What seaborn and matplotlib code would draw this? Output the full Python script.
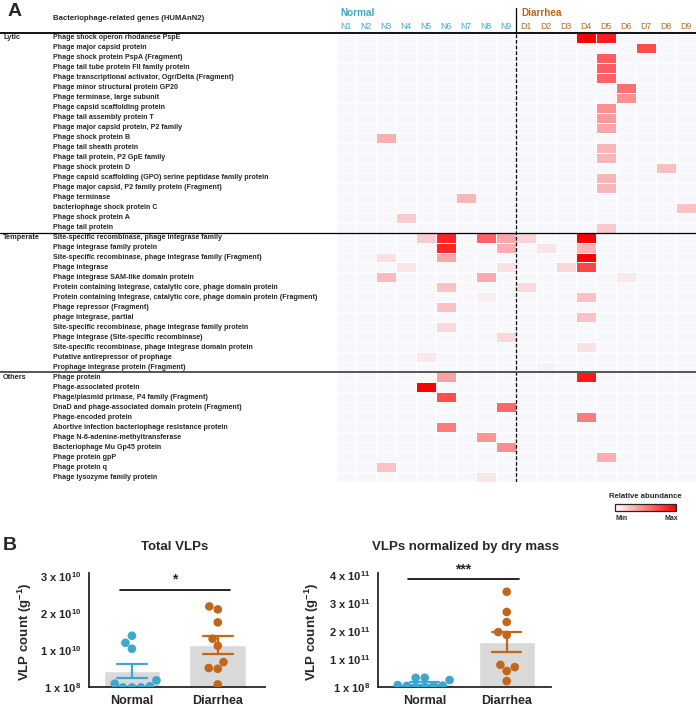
import matplotlib
matplotlib.use("Agg")
import matplotlib.pyplot as plt
import numpy as np
import pandas as pd
import seaborn as sns
from matplotlib.colors import LinearSegmentedColormap
from matplotlib.lines import Line2D
from matplotlib.transforms import blended_transform_factory
from matplotlib.cm import ScalarMappable

# ---------------- data ----------------
samples_normal = ["N1", "N2", "N3", "N4", "N5", "N6", "N7", "N8", "N9"]
samples_diarrhea = ["D1", "D2", "D3", "D4", "D5", "D6", "D7", "D8", "D9"]
samples = samples_normal + samples_diarrhea

genes_lytic = [
    "Phage shock operon rhodanese PspE",
    "Phage major capsid protein",
    "Phage shock protein PspA (Fragment)",
    "Phage tail tube protein FII family protein",
    "Phage transcriptional activator, Ogr/Delta (Fragment)",
    "Phage minor structural protein GP20",
    "Phage terminase, large subunit",
    "Phage capsid scaffolding protein",
    "Phage tail assembly protein T",
    "Phage major capsid protein, P2 family",
    "Phage shock protein B",
    "Phage tail sheath protein",
    "Phage tail protein, P2 GpE family",
    "Phage shock protein D",
    "Phage capsid scaffolding (GPO) serine peptidase family protein",
    "Phage major capsid, P2 family protein (Fragment)",
    "Phage terminase",
    "bacteriophage shock protein C",
    "Phage shock protein A",
    "Phage tail protein",
]
genes_temperate = [
    "Site-specific recombinase, phage integrase family",
    "Phage integrase family protein",
    "Site-specific recombinase, phage integrase family (Fragment)",
    "Phage integrase",
    "Phage integrase SAM-like domain protein",
    "Protein containing Integrase, catalytic core, phage domain protein",
    "Protein containing Integrase, catalytic core, phage domain protein (Fragment)",
    "Phage repressor (Fragment)",
    "phage integrase, partial",
    "Site-specific recombinase, phage integrase family protein",
    "Phage integrase (Site-specific recombinase)",
    "Site-specific recombinase, phage integrase domain protein",
    "Putative antirepressor of prophage",
    "Prophage integrase protein (Fragment)",
]
genes_others = [
    "Phage protein",
    "Phage-associated protein",
    "Phage/plasmid primase, P4 family (Fragment)",
    "DnaD and phage-associated domain protein (Fragment)",
    "Phage-encoded protein",
    "Abortive infection bacteriophage resistance protein",
    "Phage N-6-adenine-methyltransferase",
    "Bacteriophage Mu Gp45 protein",
    "Phage protein gpP",
    "Phage protein q",
    "Phage lysozyme family protein",
]

# relative abundance (0 = min, 1 = max), only non-zero cells: (gene, sample, value)
lytic_hits = [
    (0, "D4", 1.0), (0, "D5", 0.88), (1, "D7", 0.7), (2, "D5", 0.62),
    (3, "D5", 0.62), (4, "D5", 0.6), (5, "D6", 0.55), (6, "D6", 0.42),
    (7, "D5", 0.42), (8, "D5", 0.38), (9, "D5", 0.33), (10, "N3", 0.3),
    (11, "D5", 0.27), (12, "D5", 0.27), (13, "D8", 0.24), (14, "D5", 0.27),
    (15, "D5", 0.27), (16, "N7", 0.27), (17, "D9", 0.22), (18, "N4", 0.18),
    (19, "D5", 0.18),
]
temperate_hits = [
    (0, "N5", 0.18), (0, "N6", 0.85), (0, "N8", 0.6), (0, "N9", 0.33),
    (0, "D1", 0.15), (0, "D4", 1.0),
    (1, "N6", 0.85), (1, "N9", 0.3), (1, "D2", 0.08), (1, "D4", 0.27),
    (2, "N3", 0.1), (2, "N6", 0.33), (2, "D4", 1.0),
    (3, "N4", 0.08), (3, "N9", 0.1), (3, "D3", 0.13), (3, "D4", 0.72),
    (4, "N3", 0.25), (4, "N8", 0.32), (4, "D6", 0.06),
    (5, "N6", 0.22), (5, "D1", 0.12),
    (6, "N8", 0.04), (6, "D4", 0.22),
    (7, "N6", 0.22), (8, "D4", 0.22), (9, "N6", 0.13), (10, "N9", 0.13),
    (11, "D4", 0.1), (12, "N5", 0.07), (13, "D2", 0.03),
]
others_hits = [
    (0, "N6", 0.35), (0, "D4", 0.9), (1, "N5", 1.0), (2, "N6", 0.68),
    (3, "N9", 0.58), (4, "D4", 0.5), (5, "N6", 0.5), (6, "N8", 0.4),
    (7, "N9", 0.43), (8, "D5", 0.3), (9, "N3", 0.22), (10, "N8", 0.08),
]

# VLP counts per gram
total_normal = [1.39e10, 1.04e10, 1.2e10, 0.19e10, 0.1e10, 0.0, 0.0, 0.0, 0.03e10]
total_diarrhea = [2.1e10, 2.18e10, 1.75e10, 1.12e10, 1.31e10, 0.68e10, 0.5e10, 0.52e10, 0.08e10]
dry_normal = [0.0, 0.25e11, 0.05e11, 0.07e11, 0.33e11, 0.33e11, 0.04e11, 0.04e11, 0.0]
dry_diarrhea = [3.4e11, 2.68e11, 2.32e11, 1.86e11, 1.96e11, 0.79e11, 0.57e11, 0.71e11, 0.21e11]

# ---------------- style ----------------
sns.set_style("white")
plt.rcParams["font.family"] = ["Liberation Sans", "DejaVu Sans"]
plt.rcParams["mathtext.fontset"] = "custom"
plt.rcParams["mathtext.rm"] = "Liberation Sans:bold"
plt.rcParams["mathtext.bf"] = "Liberation Sans:bold"
plt.rcParams["mathtext.default"] = "bf"

BLUE = "#3FA7CC"
ORANGE = "#C2661C"
W, H = 696, 709


def box(x0, y0, x1, y1):
    return [x0 / W, 1 - y1 / H, (x1 - x0) / W, (y1 - y0) / H]


fig = plt.figure(figsize=(W / 100, H / 100), dpi=100)

# ---------------- panel A: heatmap ----------------
genes = genes_lytic + genes_temperate + genes_others
mat = pd.DataFrame(0.0, index=genes, columns=samples)
for names, hits in [(genes_lytic, lytic_hits), (genes_temperate, temperate_hits),
                    (genes_others, others_hits)]:
    for r, s, v in hits:
        mat.loc[names[r], s] = v

cmap = LinearSegmentedColormap.from_list("wr", ["#F8F8FC", "#FF0000"])
hm = fig.add_axes(box(336, 33, 696, 482))
sns.heatmap(mat, ax=hm, cmap=cmap, vmin=0, vmax=1, cbar=False,
            linewidths=0.6, linecolor="white", xticklabels=True, yticklabels=False)
hm.xaxis.tick_top()
hm.tick_params(axis="x", length=0, pad=1.5, labelsize=6.3)
for lab in hm.get_xticklabels():
    lab.set_rotation(0)
    lab.set_color(BLUE if lab.get_text().startswith("N") else ORANGE)

tr = blended_transform_factory(fig.transFigure, hm.transData)
for i, g in enumerate(genes):
    hm.text(53 / W, i + 0.5, g, transform=tr, ha="left", va="center",
            fontsize=5.1, fontweight="bold", clip_on=False)

n_l, n_t = len(genes_lytic), len(genes_temperate)
for y0, name in [(0, "Lytic"), (n_l, "Temperate"), (n_l + n_t, "Others")]:
    hm.text(3 / W, y0 + 0.5, name, transform=tr, ha="left", va="center",
            fontsize=5.3, fontweight="bold", clip_on=False)

fig.add_artist(Line2D([0, 1], [0, 0], transform=tr, color="black", lw=1.3))
fig.add_artist(Line2D([0, 1], [n_l, n_l], transform=tr, color="black", lw=0.9))
fig.add_artist(Line2D([0, 1], [n_l + n_t, n_l + n_t], transform=tr, color="#555555", lw=1.4))

hm.axvline(9, color="black", lw=0.9, ls=(0, (3, 1.5)))
trv = blended_transform_factory(hm.transData, fig.transFigure)
fig.add_artist(Line2D([9, 9], [1 - 8 / H, 1 - 33 / H], transform=trv, color="black", lw=0.9))

fig.text(8 / W, 1 - 12 / H, "A", fontsize=14, fontweight="bold", ha="left", va="center")
fig.text(53 / W, 1 - 18 / H, "Bacteriophage-related genes (HUMAnN2)", fontsize=5.6,
         fontweight="bold", ha="left", va="center")
fig.text(340 / W, 1 - 13 / H, "Normal", color=BLUE, fontsize=7.2, fontweight="bold",
         ha="left", va="center")
fig.text(521 / W, 1 - 13 / H, "Diarrhea", color=ORANGE, fontsize=7.2, fontweight="bold",
         ha="left", va="center")

# colour legend
cax = fig.add_axes(box(615, 504, 676, 511))
cb = fig.colorbar(ScalarMappable(cmap=LinearSegmentedColormap.from_list("wr2", ["white", "red"])),
                  cax=cax, orientation="horizontal")
cb.set_ticks([])
cb.outline.set_linewidth(0.9)
fig.text(645 / W, 1 - 497 / H, "Relative abundance", fontsize=5.6, fontweight="bold",
         ha="center", va="center")
fig.text(615 / W, 1 - 518 / H, "Min", fontsize=5, fontweight="bold", ha="left", va="center")
fig.text(678 / W, 1 - 518 / H, "Max", fontsize=5, fontweight="bold", ha="right", va="center")

# ---------------- panel B: VLP counts ----------------
fig.text(3 / W, 1 - 545 / H, "B", fontsize=14, fontweight="bold", ha="left", va="center")

groups = ["Normal"] * 9 + ["Diarrhea"] * 9
pal = {"Normal": BLUE, "Diarrhea": ORANGE}


def vlp_panel(ax, vals, ylim, ticks, ticklabels, bar_w, xlim):
    df = pd.DataFrame({"group": groups, "vlp": vals})
    sns.barplot(data=df, x="group", y="vlp", color="#D9D9D9", errorbar=None,
                width=bar_w, ax=ax)
    sns.pointplot(data=df, x="group", y="vlp", hue="group", palette=pal,
                  errorbar="se", capsize=0.35, linestyle="none", marker="",
                  err_kws={"linewidth": 1.6}, legend=False, ax=ax)
    sns.swarmplot(data=df, x="group", y="vlp", hue="group", palette=pal,
                  size=6.2, legend=False, ax=ax, warn_thresh=1)
    ax.set_ylim(*ylim)
    ax.set_xlim(*xlim)
    ax.set_yticks(ticks)
    ax.set_yticklabels(ticklabels)
    ax.set_xlabel("")
    ax.set_ylabel("")
    sns.despine(ax=ax)
    for sp in ["left", "bottom"]:
        ax.spines[sp].set_linewidth(1.3)
    ax.tick_params(axis="both", direction="out", length=3.5, width=1.2,
                   labelsize=8, pad=2)
    for lab in ax.get_xticklabels():
        lab.set_fontweight("bold")
        lab.set_fontsize(9)
    for lab in ax.get_yticklabels():
        lab.set_fontweight("bold")


ax1 = fig.add_axes(box(89, 573, 265, 687))
vlp_panel(ax1, total_normal + total_diarrhea, (1e8, 3.08e10),
          [1e8, 1e10, 2e10, 3e10],
          ["1 x 10$^{8}$", "1 x 10$^{10}$", "2 x 10$^{10}$", "3 x 10$^{10}$"],
          0.66, (-0.5, 1.55))
ax1.plot([-0.14, 1.14], [2.62e10, 2.62e10], color="black", lw=1.2, clip_on=False)
ax1.text(0.5, 2.72e10, "*", ha="center", va="bottom", fontsize=10, fontweight="bold")

ax2 = fig.add_axes(box(378, 573, 551, 687))
vlp_panel(ax2, dry_normal + dry_diarrhea, (1e8, 4.07e11),
          [1e8, 1e11, 2e11, 3e11, 4e11],
          ["1 x 10$^{8}$", "1 x 10$^{11}$", "2 x 10$^{11}$", "3 x 10$^{11}$", "4 x 10$^{11}$"],
          0.68, (-0.57, 1.54))
ax2.plot([-0.21, 1.15], [3.86e11, 3.86e11], color="black", lw=1.2, clip_on=False)
ax2.text(0.47, 3.93e11, "***", ha="center", va="bottom", fontsize=10, fontweight="bold",
         clip_on=False)

fig.text(175 / W, 1 - 547 / H, "Total VLPs", fontsize=9.5, fontweight="bold",
         ha="center", va="center")
fig.text(465 / W, 1 - 547 / H, "VLPs normalized by dry mass", fontsize=9.5,
         fontweight="bold", ha="center", va="center")
for xl in (25, 312):
    fig.text(xl / W, 1 - 632 / H, "VLP count (g$^{-1}$)", fontsize=9.5,
             fontweight="bold", rotation=90, ha="center", va="center")

fig.savefig("out.png", dpi=100)
